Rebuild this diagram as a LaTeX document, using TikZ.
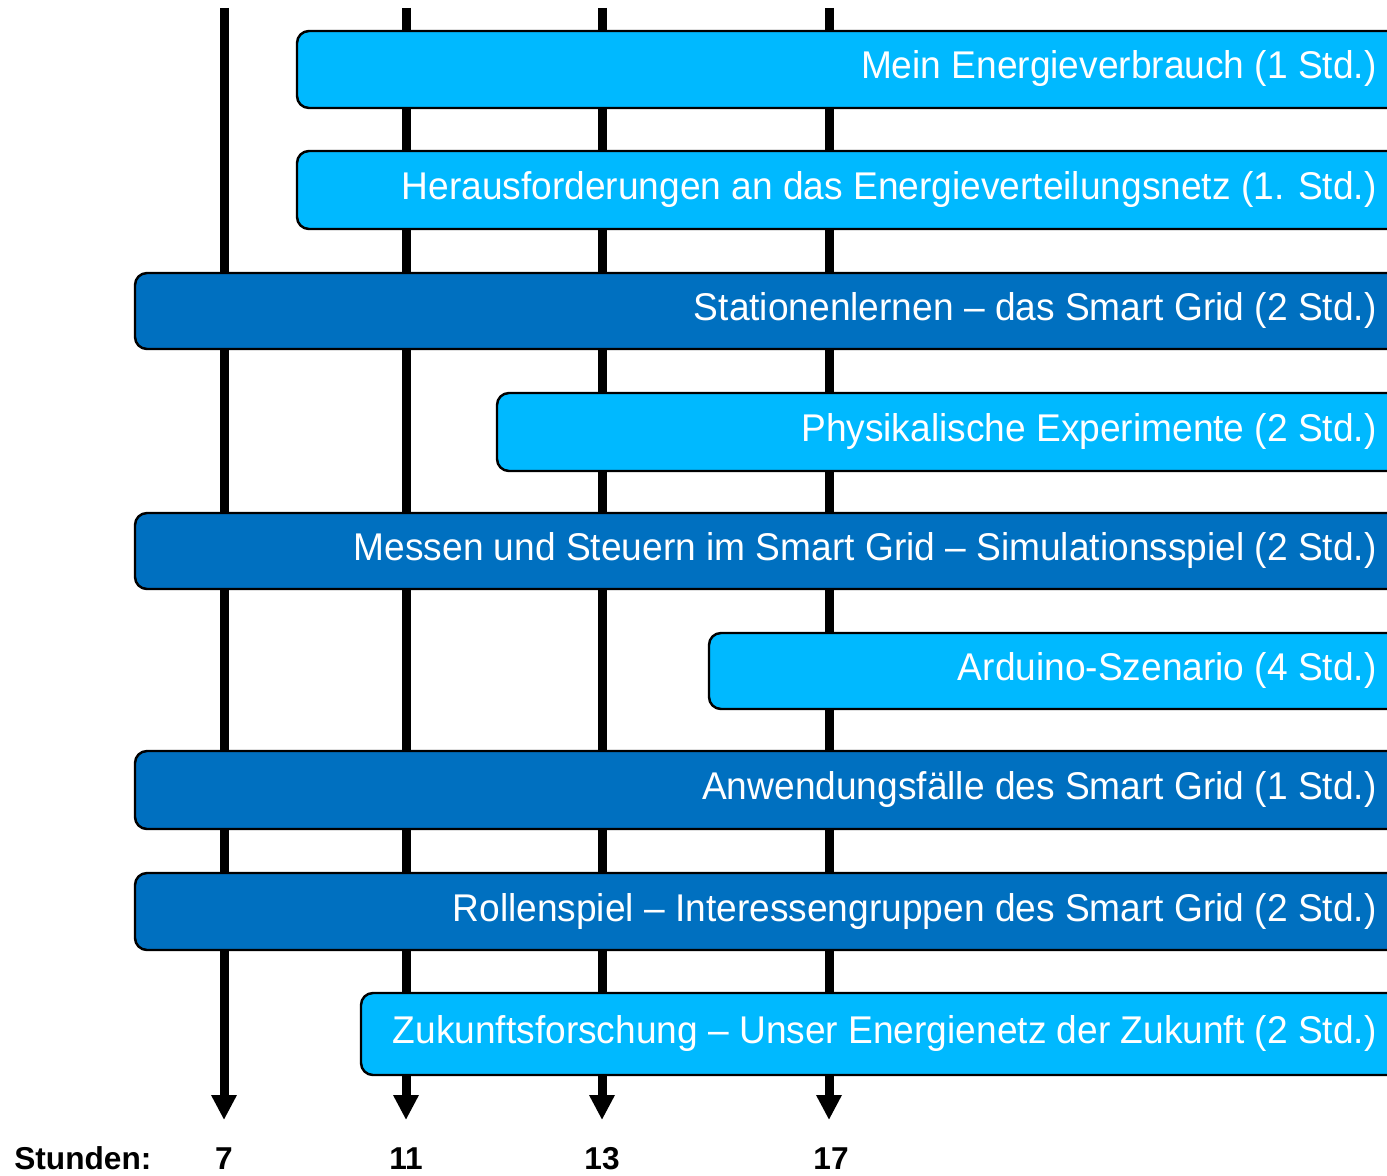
\documentclass[tikz,border=0pt]{standalone}
\usepackage{fontspec}
\setmainfont{Liberation Sans}
\newfontfamily\barfont{Liberation Sans}[FakeStretch=0.96]
\usetikzlibrary{arrows.meta}
\definecolor{lightbar}{HTML}{00B9FF}
\definecolor{darkbar}{HTML}{0070C0}
\tikzset{
  axisline/.style={line width=0.18cm, draw=black, -{Triangle[length=0.5cm,width=0.48cm]}},
  lbar/.style={draw=black, line width=1.4pt, fill=lightbar, rounded corners=0.24cm},
  dbar/.style={draw=black, line width=1.4pt, fill=darkbar, rounded corners=0.24cm},
  bartext/.style={anchor=base east, text=white, inner sep=0pt, font=\barfont\fontsize{22}{26}\selectfont},
  hourtext/.style={anchor=base, inner sep=0pt, font=\fontsize{18}{22}\selectfont\bfseries},
}
\begin{document}
\begin{tikzpicture}[x=0.02cm,y=-0.02cm]
\clip (0,0) rectangle (1387,1176);
\fill[white] (0,0) rectangle (1387,1176);
% axes
\coordinate (t7) at (224,8);   \coordinate (e7) at (224,1120);
\coordinate (t11) at (406,8);  \coordinate (e11) at (406,1120);
\coordinate (t13) at (602,8);  \coordinate (e13) at (602,1120);
\coordinate (t17) at (829,8);  \coordinate (e17) at (829,1120);
\draw[axisline] (t7) -- (e7);
\draw[axisline] (t11) -- (e11);
\draw[axisline] (t13) -- (e13);
\draw[axisline] (t17) -- (e17);
% bars
\draw[lbar] (297,31) rectangle (1420,108);
\node[bartext] (b1) at (1377,79) {Mein Energieverbrauch (1 Std.)};
\draw[lbar] (297,151) rectangle (1420,229);
\node[bartext] (b2) at (1377,199.5) {Herausforderungen an das Energieverteilungsnetz (1. Std.)};
\draw[dbar] (135,273) rectangle (1420,349);
\node[bartext] (b3) at (1377,320.5) {Stationenlernen – das Smart Grid (2 Std.)};
\draw[lbar] (497,393) rectangle (1420,471);
\node[bartext] (b4) at (1377,441.5) {Physikalische Experimente (2 Std.)};
\draw[dbar] (135,513) rectangle (1420,589);
\node[bartext] (b5) at (1377,560.5) {Messen und Steuern im Smart Grid – Simulationsspiel (2 Std.)};
\draw[lbar] (709,633) rectangle (1420,709);
\node[bartext] (b6) at (1377,680.5) {Arduino-Szenario (4 Std.)};
\draw[dbar] (135,751) rectangle (1420,829);
\node[bartext] (b7) at (1377,799.5) {Anwendungsfälle des Smart Grid (1 Std.)};
\draw[dbar] (135,873) rectangle (1420,950);
\node[bartext] (b8) at (1377,921) {Rollenspiel – Interessengruppen des Smart Grid (2 Std.)};
\draw[lbar] (361,993) rectangle (1420,1075);
\node[bartext] (b9) at (1377,1043.5) {Zukunftsforschung – Unser Energienetz der Zukunft (2 Std.)};
% hour labels
\node[hourtext, anchor=base west] (hs) at (14,1169) {Stunden:};
\node[hourtext] (h7) at (224,1169) {7};
\node[hourtext] (h11) at (406,1169) {11};
\node[hourtext] (h13) at (602,1169) {13};
\node[hourtext] (h17) at (831,1169) {17};
\end{tikzpicture}
\end{document}
